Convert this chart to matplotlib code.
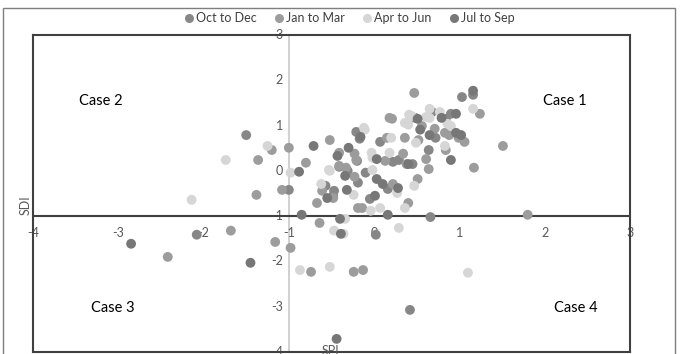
import matplotlib
matplotlib.use("Agg")
import matplotlib.pyplot as plt
from matplotlib.lines import Line2D
from matplotlib.patches import Rectangle

plt.rcParams["font.family"] = ["Lato", "DejaVu Sans"]

# --- data (SPI, SDI) per quarter ------------------------------------------
series_names = ["Oct to Dec", "Jan to Mar", "Apr to Jun", "Jul to Sep"]
series_colors = ["#878787", "#9c9c9c", "#d6d6d6", "#777777"]

oct_dec_spi = [-2.08, 0.42, 0.66, 0.02, -1.50, -1.00, -0.57, -0.47, 0.48, 0.90,
               -0.21, 0.07, 0.72, 0.64, -0.20, 0.29, 0.45, -0.31, -0.10, -0.19,
               0.16, -0.05, 1.03, 1.16, 0.68, 0.84, -0.17, -0.41, -0.48, 0.22]
oct_dec_sdi = [-1.41, -3.07, -1.02, -1.41, 0.79, -0.42, -0.33, -0.44, 1.17, 1.26,
               0.86, 0.64, 0.73, 0.46, 0.22, 0.24, 0.15, 0.00, -0.04, -0.26,
               -0.40, -0.62, 1.63, 1.68, 1.30, 1.15, 0.71, 0.09, -0.55, 0.20]

jan_mar_spi = [-2.42, -1.68, -1.16, -0.98, -0.74, -0.24, -0.13, 1.80, -0.64, -1.20,
               -1.36, -1.00, -0.52, -0.80, -1.38, -1.08, -0.67, -0.61, -0.48, -0.41,
               0.18, 0.56, 0.15, 0.36, 0.52, 0.71, 0.83, 0.99, 0.84, 1.51,
               -0.23, 0.13, 0.34, 0.61, 0.64, 1.17, -0.33, 0.22, 0.51, 0.40,
               -0.14, 0.47, 1.24, 0.21, 0.88, 1.06, -0.41, -0.21, 0.38, -0.19,
               -0.23]
jan_mar_sdi = [-1.90, -1.32, -1.57, -1.70, -2.23, -2.23, -2.19, -0.97, -1.15, 0.46,
               0.24, 0.51, 0.68, 0.18, -0.53, -0.42, -0.71, -0.44, -0.60, 0.11,
               1.17, 0.99, 0.73, 0.73, 0.68, 0.93, 0.84, 0.73, 0.46, 0.55,
               0.38, 0.22, 0.38, 0.26, 0.04, 0.07, 0.07, -0.29, -0.18, -0.71,
               -0.82, 1.72, 1.26, 1.15, 0.79, 0.64, 0.40, 0.24, 0.15, -0.82,
               -0.13]

apr_jun_spi = [-1.74, -2.14, -1.25, -0.98, -0.52, -0.62, -0.47, -0.36, 0.29, -0.87,
               -0.52, 1.10, 0.41, 0.36, 0.61, -0.12, 0.20, 0.49, 0.86, 0.83,
               -0.03, -0.02, 0.18, -0.02, 0.47, -0.24, 0.27, 0.36, -0.04, 0.07,
               1.16, 0.44, 0.40, 0.65, 0.77, 0.65, 0.90, -0.11, -0.53, -0.34]
apr_jun_sdi = [0.24, -0.64, 0.55, -0.04, 0.00, -0.29, -1.32, -1.39, -1.26, -2.19,
               -2.12, -2.25, 1.24, 1.06, 1.19, 0.95, 0.73, 0.62, 1.04, 0.55,
               0.40, 0.29, 0.40, 0.02, -0.33, -0.53, -0.49, -0.82, -0.88, -0.82,
               1.37, 1.21, 1.02, 1.37, 1.30, 1.17, 0.99, 0.91, 0.02, -1.06]

jul_sep_spi = [-2.85, -1.45, -0.44, 0.16, -0.39, -0.71, -0.85, -0.55, -0.88, 0.79,
               0.54, -0.16, 0.65, 0.96, -0.30, 0.03, 0.40, 0.90, -0.34, 0.03,
               0.10, 0.28, 0.01, 1.16, 0.51, 0.96, 1.02, -0.43, -0.32, -0.40]
jul_sep_sdi = [-1.61, -2.03, -3.71, -0.97, -1.39, 0.55, -0.97, -0.60, -0.02, 1.17,
               0.91, 0.75, 0.79, 0.84, 0.51, 0.26, 0.15, 0.24, -0.11, -0.18,
               -0.29, -0.38, -0.55, 1.77, 1.15, 1.26, 0.79, 0.33, -0.42, -1.06]

x_ticks = [-4, -3, -2, -1, 0, 1, 2, 3]
y_ticks = [3, 2, 1, 0, -1, -2, -3, -4]
case_labels = ["Case 1", "Case 2", "Case 3", "Case 4"]
case_pos = [(2.24, 1.55), (-3.20, 1.55), (-3.06, -3.02), (2.36, -3.02)]

all_series = [
    (oct_dec_spi, oct_dec_sdi),
    (jan_mar_spi, jan_mar_sdi),
    (apr_jun_spi, apr_jun_sdi),
    (jul_sep_spi, jul_sep_sdi),
]

fig = plt.figure(figsize=(6.81, 3.54), dpi=100)
ax = fig.add_axes([33 / 681, 2 / 354, 597 / 681, 317 / 354])

# outer chart-area border
fig.patches.append(Rectangle((3 / 681, -0.1), 672 / 681, 1.1 - 8 / 354,
                             transform=fig.transFigure, fill=False,
                             edgecolor="#7f7f7f", linewidth=1.0))

for (xs, ys), name, col in zip(all_series, series_names, series_colors):
    ax.scatter(xs, ys, s=50, color=col, edgecolors="none", zorder=3, label=name)

# axes crossing at (-1, -1)
ax.axhline(-1, color="#404040", linewidth=1.5, zorder=2)
ax.axvline(-1, color="#c8c8c8", linewidth=1.2, zorder=1)

ax.set_xlim(-4, 3)
ax.set_ylim(-4, 3)
ax.set_xticks([])
ax.set_yticks([])
for sp in ax.spines.values():
    sp.set_color("#404040")
    sp.set_linewidth(1.5)

tick_style = dict(fontsize=9, color="#595959", zorder=1, clip_on=False)
for y in y_ticks:
    ax.text(-1.07, y, str(y), ha="right", va="center", **tick_style)
for x in x_ticks:
    ax.text(x, -1.37, str(x), ha="center", va="center", **tick_style)

for lab, (cx, cy) in zip(case_labels, case_pos):
    ax.text(cx, cy, lab, ha="center", va="center", fontsize=10.5, color="black")

fig.text(26 / 681, (354 - 205) / 354, "SDI", rotation=90, ha="center",
         va="center", fontsize=9, color="#595959")
fig.text(330 / 681, 3 / 354, "SPI", ha="center", va="center",
         fontsize=9, color="#595959")

handles = [Line2D([], [], marker="o", linestyle="none", markersize=6.5,
                  markerfacecolor=c, markeredgecolor="none") for c in series_colors]
fig.legend(handles, series_names, loc="center", bbox_to_anchor=(0.512, 0.949),
           ncol=4, frameon=False, fontsize=9, handletextpad=0.05,
           columnspacing=1.3, handlelength=1.0, labelcolor="#404040")

fig.savefig("out.png", dpi=100)
